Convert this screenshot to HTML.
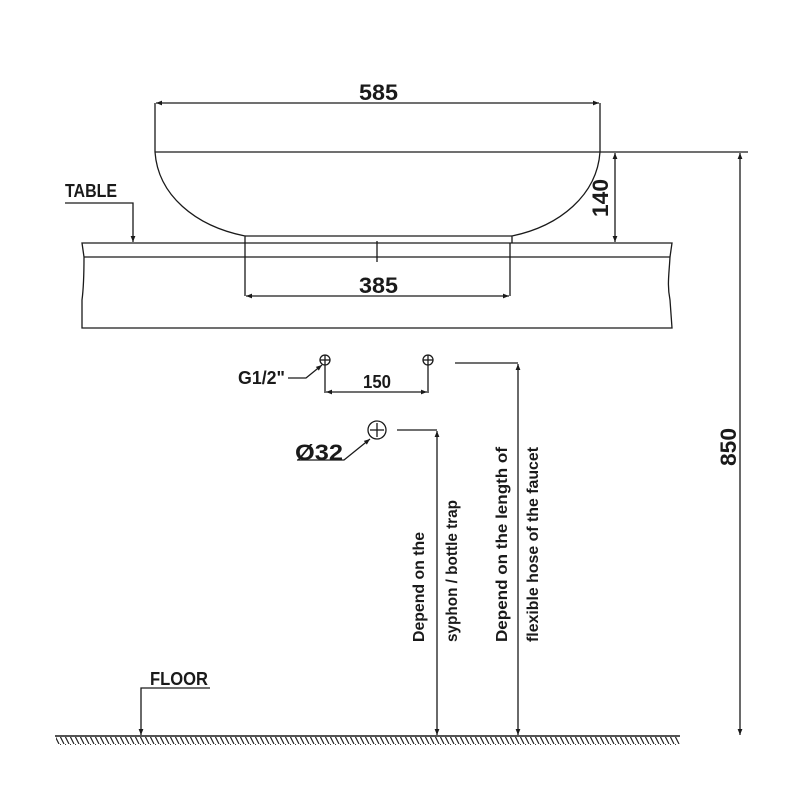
<!DOCTYPE html><html><head><style>body{margin:0;background:#fff}svg{display:block}
text{font-family:"Liberation Sans",sans-serif;font-weight:bold;fill:#1a1a1a}</style></head><body>
<svg width="800" height="800" viewBox="0 0 800 800" xmlns="http://www.w3.org/2000/svg">
<defs>
<marker id="a" viewBox="0 0 10 10" refX="10" refY="5" markerWidth="9" markerHeight="6" orient="auto-start-reverse" markerUnits="userSpaceOnUse"><path d="M0,1 L10,5 L0,9 z" fill="#1a1a1a"/></marker>
<pattern id="h" width="5" height="8" patternUnits="userSpaceOnUse"><path d="M0,0 L4,8" stroke="#222" stroke-width="1.2"/></pattern>
</defs>
<g stroke="#1a1a1a" stroke-width="1.3" fill="none">
<line x1="155" y1="103" x2="155" y2="152"/><line x1="600" y1="103" x2="600" y2="152"/>
<line x1="156" y1="103" x2="599" y2="103" marker-start="url(#a)" marker-end="url(#a)"/>
<line x1="155" y1="152" x2="748" y2="152"/>
<path d="M155,152 C158,195 195,226 245,236 L245,243 M600,152 C597,195 560,226 512,236 L512,243"/>
<line x1="245" y1="236" x2="512" y2="236"/>
<path d="M82,243 L672,243 L670,257 C669,275 667,285 670,300 L672,328 L82,328 L82,300 C84,285 84,270 84,257 Z"/>
<line x1="84" y1="257" x2="670" y2="257"/>
<line x1="245" y1="243" x2="245" y2="296"/><line x1="510" y1="243" x2="510" y2="296"/>
<line x1="246" y1="296" x2="509" y2="296" marker-start="url(#a)" marker-end="url(#a)"/>
<line x1="377" y1="241" x2="377" y2="262"/>
<line x1="615" y1="153" x2="615" y2="242" marker-start="url(#a)" marker-end="url(#a)"/>
<line x1="740" y1="153" x2="740" y2="735" marker-start="url(#a)" marker-end="url(#a)"/>
<polyline points="65,203 133,203 133,242" marker-end="url(#a)"/>
<circle cx="325" cy="360" r="5"/><line x1="320" y1="360" x2="330" y2="360"/><line x1="325" y1="355" x2="325" y2="393"/>
<circle cx="428" cy="360" r="5"/><line x1="423" y1="360" x2="433" y2="360"/><line x1="428" y1="355" x2="428" y2="393"/>
<line x1="326" y1="392" x2="427" y2="392" marker-start="url(#a)" marker-end="url(#a)"/>
<polyline points="288,378 306,378 322,365" marker-end="url(#a)"/>
<circle cx="377" cy="430" r="9"/><line x1="370" y1="430" x2="384" y2="430"/><line x1="377" y1="423" x2="377" y2="437"/>
<polyline points="297,460 344,460 370,439" marker-end="url(#a)"/>
<line x1="397" y1="430" x2="437" y2="430"/>
<line x1="437" y1="431" x2="437" y2="735" marker-start="url(#a)" marker-end="url(#a)"/>
<line x1="455" y1="363" x2="518" y2="363"/>
<line x1="518" y1="364" x2="518" y2="735" marker-start="url(#a)" marker-end="url(#a)"/>
<polyline points="210,688 141,688 141,735" marker-end="url(#a)"/>
<line x1="55" y1="736" x2="680" y2="736" stroke-width="1.6"/>
</g>
<rect x="56" y="737" width="624" height="8" fill="url(#h)"/>
<g font-size="22">
<text x="359" y="100" textLength="39" lengthAdjust="spacingAndGlyphs">585</text>
<text x="359" y="293" textLength="39" lengthAdjust="spacingAndGlyphs">385</text>
<text transform="translate(608,217) rotate(-90)" textLength="38" lengthAdjust="spacingAndGlyphs">140</text>
<text transform="translate(736,466) rotate(-90)" textLength="38" lengthAdjust="spacingAndGlyphs">850</text>
<text x="295" y="460" textLength="48" lengthAdjust="spacingAndGlyphs">Ø32</text>
</g>
<g font-size="18">
<text x="65" y="197" textLength="52" lengthAdjust="spacingAndGlyphs">TABLE</text>
<text x="150" y="685" textLength="58" lengthAdjust="spacingAndGlyphs">FLOOR</text>
<text x="238" y="384" textLength="47" lengthAdjust="spacingAndGlyphs">G1/2"</text>
<text x="363" y="388" textLength="28" lengthAdjust="spacingAndGlyphs">150</text>
</g>
<g font-size="16">
<text transform="translate(424,642) rotate(-90)" textLength="110" lengthAdjust="spacingAndGlyphs">Depend on the</text>
<text transform="translate(457,642) rotate(-90)" textLength="142" lengthAdjust="spacingAndGlyphs">syphon / bottle trap</text>
<text transform="translate(507,642) rotate(-90)" textLength="195" lengthAdjust="spacingAndGlyphs">Depend on the length of</text>
<text transform="translate(538,642) rotate(-90)" textLength="195" lengthAdjust="spacingAndGlyphs">flexible hose of the faucet</text>
</g>
</svg></body></html>
